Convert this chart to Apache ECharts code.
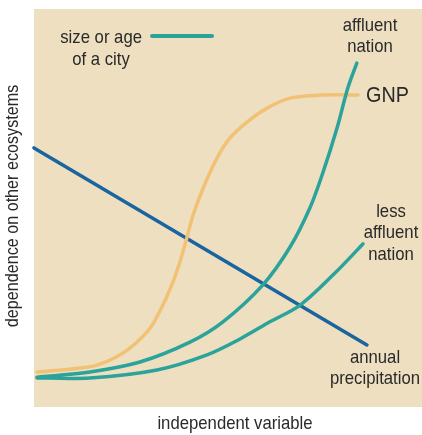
<!DOCTYPE html>
<html>
<head>
<meta charset="utf-8">
<script src="https://cdn.jsdelivr.net/npm/echarts@6/dist/echarts.min.js"></script>
<style>
html,body{margin:0;padding:0;background:#fff;}
#chart{width:422px;height:435px;}
</style>
</head>
<body>
<div id="chart"></div>
<script>
// x: independent variable (0-100), y: dependence on other ecosystems (0-100)
var gnp = [[0.8,8.8],[14.4,10.1],[19.6,11.8],[24.7,14.8],[29.9,19.8],[33.2,25.6],[35.8,31.4],[37.6,36.4],[39.4,42.5],[41.0,48.2],[43.6,55.0],[47.2,62.6],[50.5,67.6],[54.9,71.6],[60.1,75.1],[66.0,77.6],[74.5,78.4],[83.5,78.4]];
var affluentNation = [[0.8,7.5],[14.4,8.8],[27.3,11.3],[40.2,16.3],[48.7,21.4],[59.0,30.7],[66.0,40.2],[71.1,50.0],[74.5,59.0],[78.1,70.1],[80.9,80.2],[83.2,86.4]];
var lessAffluentNation = [[0.8,7.3],[14.4,7.3],[31.7,9.3],[44.6,13.1],[53.1,17.1],[60.8,21.4],[68.6,25.6],[77.1,33.2],[84.8,41.0]];
var annualPrecipitation = [[0,65.1],[85.8,15.6]];

var TEAL = '#2BA39A', BLUE = '#1A64A0', ORANGE = '#F1C275', BG = '#EEDFC0', TXT = '#2a2a2a';
var FONT = '"Liberation Sans", Arial, sans-serif';
var SX = 0.88;

var chart = echarts.init(document.getElementById('chart'), null, {renderer: 'canvas'});

// smooth path through the projected points (chord-weighted Catmull-Rom as cubic Beziers)
function buildPath(p) {
  var n = p.length;
  function dist(a, b) { return Math.sqrt((a[0]-b[0])*(a[0]-b[0]) + (a[1]-b[1])*(a[1]-b[1])); }
  var s = 'M' + p[0][0] + ' ' + p[0][1];
  for (var i = 0; i < n - 1; i++) {
    var p0 = p[i - 1] || p[i], p1 = p[i], p2 = p[i + 1], p3 = p[i + 2] || p[i + 1];
    var d0 = dist(p0, p1) || 1e-6, d1 = dist(p1, p2) || 1e-6, d2 = dist(p2, p3) || 1e-6;
    var f1 = d1 / (d0 + d1) / 1.5 * (i === 0 ? 0.5 : 1);
    var f2 = d1 / (d1 + d2) / 1.5 * (i === n - 2 ? 0.5 : 1);
    var c1x = p1[0] + (p2[0] - p0[0]) * f1 * 0.5, c1y = p1[1] + (p2[1] - p0[1]) * f1 * 0.5;
    var c2x = p2[0] - (p3[0] - p1[0]) * f2 * 0.5, c2y = p2[1] - (p3[1] - p1[1]) * f2 * 0.5;
    s += ' C' + c1x + ' ' + c1y + ' ' + c2x + ' ' + c2y + ' ' + p2[0] + ' ' + p2[1];
  }
  return s;
}

function curve(name, data, color, w, z) {
  return {
    name: name, type: 'custom', coordinateSystem: 'cartesian2d', data: data, z: z, silent: true,
    encode: {x: 0, y: 1},
    renderItem: function (params, api) {
      if (params.dataIndex !== 0) return null;
      var pts = data.map(function (d) { return api.coord(d); });
      return {type: 'path', shape: {pathData: buildPath(pts)},
        style: {fill: 'none', stroke: color, lineWidth: w, lineCap: 'round', lineJoin: 'round'}};
    }
  };
}

function txt(x, y, s, size, align, lh, sx) {
  return {type: 'text', x: x, y: y, scaleX: sx || SX, z: 100,
    style: {text: s, font: size + 'px ' + FONT, fill: TXT, align: align, lineHeight: lh || size + 2}};
}

chart.setOption({
  animation: false,
  grid: {left: 34, right: 0, top: 9, bottom: 28, show: true, backgroundColor: BG, borderWidth: 0},
  xAxis: {type: 'value', min: 0, max: 100, show: false},
  yAxis: {type: 'value', min: 0, max: 100, show: false},
  series: [
    {name: 'annual precipitation', type: 'line', data: annualPrecipitation, showSymbol: false, symbol: 'none', z: 2, silent: true,
      lineStyle: {color: BLUE, width: 3.5, cap: 'round'}},
    curve('GNP', gnp, ORANGE, 3.5, 3),
    curve('less affluent nation', lessAffluentNation, TEAL, 3.5, 4),
    curve('affluent nation', affluentNation, TEAL, 3.5, 5)
  ],
  graphic: [
    {type: 'line', shape: {x1: 152, y1: 36, x2: 212, y2: 36}, style: {stroke: TEAL, lineWidth: 4, lineCap: 'round'}, z: 100},
    txt(142, 27, 'size or age', 19, 'right'),
    txt(101, 49, 'of a city', 19, 'center'),
    txt(370, 15, 'affluent\nnation', 19, 'center', 21),
    txt(366, 84, 'GNP', 22, 'left', 24, 0.9),
    txt(391, 201, 'less\naffluent\nnation', 19, 'center', 21.5),
    txt(375, 347, 'annual\nprecipitation', 19, 'center', 21),
    txt(235, 413, 'independent variable', 19, 'center'),
    {type: 'text', x: 3, y: 206, rotation: Math.PI / 2, scaleX: 0.85, z: 100,
      style: {text: 'dependence on other ecosystems', font: '19px ' + FONT, fill: TXT, align: 'center', verticalAlign: 'top'}}
  ]
});
</script>
</body>
</html>
